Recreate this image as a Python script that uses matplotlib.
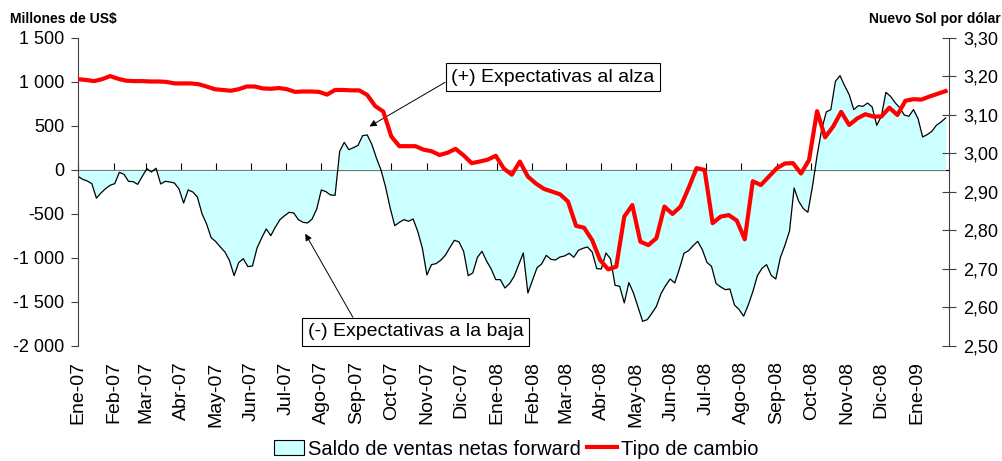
import matplotlib
matplotlib.use("Agg")
import matplotlib.pyplot as plt
import matplotlib.dates as mdates
from matplotlib.ticker import FuncFormatter, MultipleLocator, NullFormatter
from matplotlib.patches import Patch
from matplotlib.lines import Line2D
import pandas as pd

# Saldo de ventas netas forward (millones de US$), one reading every 4 days from 2007-01-01
forward_balance = [
    -72, -106, -125, -155, -320, -261, -212, -174, -155, -27,
    -49, -129, -133, -163, -72, 15, -23, 20, -159, -129,
    -136, -148, -216, -375, -227, -250, -307, -496, -613, -769,
    -814, -875, -932, -1030, -1201, -1053, -1008, -1098, -1091, -886,
    -773, -670, -746, -648, -564, -519, -481, -489, -564, -595,
    -602, -557, -443, -227, -246, -284, -288, 212, 314, 231,
    254, 280, 390, 398, 292, 136, 0, -193, -432, -633,
    -595, -564, -583, -557, -697, -886, -1193, -1076, -1064, -1026,
    -970, -882, -799, -818, -924, -1201, -1170, -993, -924, -1034,
    -1125, -1246, -1246, -1341, -1292, -1208, -1076, -943, -1398, -1254,
    -1110, -1068, -970, -1015, -1023, -989, -977, -947, -992, -913,
    -890, -875, -932, -1121, -1125, -943, -1011, -1311, -1322, -1511,
    -1280, -1398, -1561, -1720, -1701, -1629, -1550, -1405, -1314, -1239,
    -1284, -1125, -947, -917, -860, -811, -905, -1049, -1095, -1291,
    -1329, -1360, -1352, -1534, -1585, -1661, -1536, -1383, -1201, -1118,
    -1076, -1197, -1239, -996, -856, -693, -205, -356, -439, -480,
    -186, 163, 458, 659, 686, 1008, 1072, 958, 856, 686,
    731, 723, 761, 716, 508, 610, 883, 837, 765, 708,
    625, 610, 686, 583, 375, 402, 439, 508, 545, 591,
]

# Tipo de cambio (Nuevo Sol por dolar), weekly from 2007-01-01
exchange_rate = [
    3.193, 3.191, 3.188, 3.193, 3.201, 3.194, 3.189, 3.188, 3.188, 3.187,
    3.187, 3.186, 3.182, 3.182, 3.182, 3.180, 3.174, 3.167, 3.165, 3.163,
    3.167, 3.174, 3.174, 3.169, 3.168, 3.170, 3.167, 3.160,
    3.161, 3.161, 3.160, 3.153, 3.165, 3.165, 3.164, 3.164, 3.152, 3.123,
    3.109, 3.044, 3.019, 3.019, 3.019, 3.010, 3.006, 2.996, 3.002, 3.012,
    2.995, 2.975, 2.979, 2.984, 2.994, 2.961, 2.945,
    2.979, 2.940, 2.922, 2.908, 2.901, 2.894, 2.875, 2.812, 2.807, 2.775,
    2.723, 2.699, 2.706, 2.836, 2.866, 2.771, 2.762, 2.780, 2.862, 2.843,
    2.862, 2.910, 2.962, 2.957, 2.819, 2.836, 2.840, 2.826,
    2.777, 2.928, 2.918, 2.940, 2.962, 2.974, 2.975, 2.948, 2.983, 3.110,
    3.042, 3.070, 3.108, 3.074, 3.091, 3.102, 3.096, 3.096, 3.119, 3.100,
    3.137, 3.141, 3.140, 3.148, 3.155, 3.162,
]

month_labels = [
    "Ene-07", "Feb-07", "Mar-07", "Abr-07", "May-07", "Jun-07", "Jul-07",
    "Ago-07", "Sep-07", "Oct-07", "Nov-07", "Dic-07", "Ene-08", "Feb-08",
    "Mar-08", "Abr-08", "May-08", "Jun-08", "Jul-08", "Ago-08", "Sep-08",
    "Oct-08", "Nov-08", "Dic-08", "Ene-09",
]

LEFT_LIM = (-2000, 1500)
RIGHT_LIM = (2.5, 3.3)


def left_fmt(v, pos):
    s = f"{abs(int(round(v))):,}".replace(",", " ")
    return "-" + s if v < 0 else s


def right_fmt(v, pos):
    return f"{v:.2f}".replace(".", ",")


def main():
    plt.rcParams["font.family"] = ["Liberation Sans", "DejaVu Sans"]

    fb_dates = pd.date_range("2007-01-01", periods=len(forward_balance), freq="4D")
    fx_dates = pd.date_range("2007-01-01", periods=len(exchange_rate), freq="7D")
    months = pd.date_range("2007-01-01", "2009-01-01", freq="MS")

    fig = plt.figure(figsize=(10.03, 4.61), dpi=100)
    ax = fig.add_axes([0.0778, 0.2495, 0.8684, 0.6681])

    # area series on the left axis
    ax.fill_between(fb_dates, forward_balance, 0, color="#CCFFFF", lw=0)
    ax.plot(fb_dates, forward_balance, color="black", lw=0.9)
    ax.set_ylim(*LEFT_LIM)
    ax.set_xlim(pd.Timestamp("2007-01-01"), pd.Timestamp("2009-01-29"))
    ax.yaxis.set_major_locator(MultipleLocator(500))
    ax.yaxis.set_major_formatter(FuncFormatter(left_fmt))
    ax.tick_params(axis="y", direction="out", length=5, pad=5, labelsize=13,
                   color="#404040")

    # month labels at the bottom, no tick marks there
    ax.set_xticks(mdates.date2num(months))
    ax.set_xticklabels(month_labels, rotation=90, fontsize=14)
    ax.tick_params(axis="x", length=0, pad=11)
    for side in ["top", "right", "bottom"]:
        ax.spines[side].set_visible(False)
    ax.spines["left"].set_color("#404040")

    # zero line with downward ticks
    zero_loc = (0 - LEFT_LIM[0]) / (LEFT_LIM[1] - LEFT_LIM[0])
    zx = ax.secondary_xaxis(zero_loc)
    zx.set_xticks(mdates.date2num(months))
    zx.xaxis.set_major_formatter(NullFormatter())
    zx.tick_params(axis="x", direction="out", length=5, width=0.8,
                   labelbottom=False, labeltop=False)
    zx.spines["bottom"].set_linewidth(1.2)

    # exchange rate on the right axis
    ax2 = ax.twinx()
    ax2.plot(fx_dates, exchange_rate, color="#FF0000", lw=3)
    ax2.set_ylim(*RIGHT_LIM)
    ax2.yaxis.set_major_locator(MultipleLocator(0.1))
    ax2.yaxis.set_major_formatter(FuncFormatter(right_fmt))
    ax2.tick_params(axis="y", direction="inout", length=10, pad=5, labelsize=13,
                    color="#404040")
    for side in ["top", "left", "bottom"]:
        ax2.spines[side].set_visible(False)
    ax2.spines["right"].set_color("#404040")

    # annotations
    box = dict(boxstyle="square,pad=0.3", fc="white", ec="black", lw=0.8)
    ax.annotate("(+) Expectativas al alza",
                xy=(pd.Timestamp("2007-09-12"), 495),
                xytext=(553 / 1003, 1 - 77 / 461), textcoords="figure fraction",
                ha="center", va="center", fontsize=14, bbox=box, zorder=10,
                arrowprops=dict(arrowstyle="-|>", color="black", lw=0.7,
                                relpos=(0, 0.4), shrinkA=0, shrinkB=0,
                                mutation_scale=10))
    ax.annotate("(-) Expectativas a la baja",
                xy=(pd.Timestamp("2007-07-18"), -724),
                xytext=(415.5 / 1003, 1 - 332 / 461), textcoords="figure fraction",
                ha="center", va="center", fontsize=14, bbox=box, zorder=10,
                arrowprops=dict(arrowstyle="-|>", color="black", lw=0.7,
                                relpos=(0.226, 1), shrinkA=0, shrinkB=0,
                                mutation_scale=10))

    # axis titles
    fig.text(10 / 1003, 1 - 19 / 461, r"Millones de US\$", fontsize=10,
             fontweight="bold", va="center", ha="left")
    fig.text(1001 / 1003, 1 - 19 / 461, "Nuevo Sol por dólar", fontsize=10,
             fontweight="bold", va="center", ha="right")

    # legend
    handles = [Patch(facecolor="#CCFFFF", edgecolor="black", lw=0.8),
               Line2D([0], [0], color="#FF0000", lw=3)]
    fig.legend(handles, ["Saldo de ventas netas forward", "Tipo de cambio"],
               loc="center", bbox_to_anchor=(516 / 1003, 1 - 449 / 461),
               ncol=2, frameon=False, fontsize=14.5, handlelength=1.5,
               handletextpad=0.2, columnspacing=0.3)

    fig.savefig("out.png", dpi=100)


if __name__ == "__main__":
    main()
